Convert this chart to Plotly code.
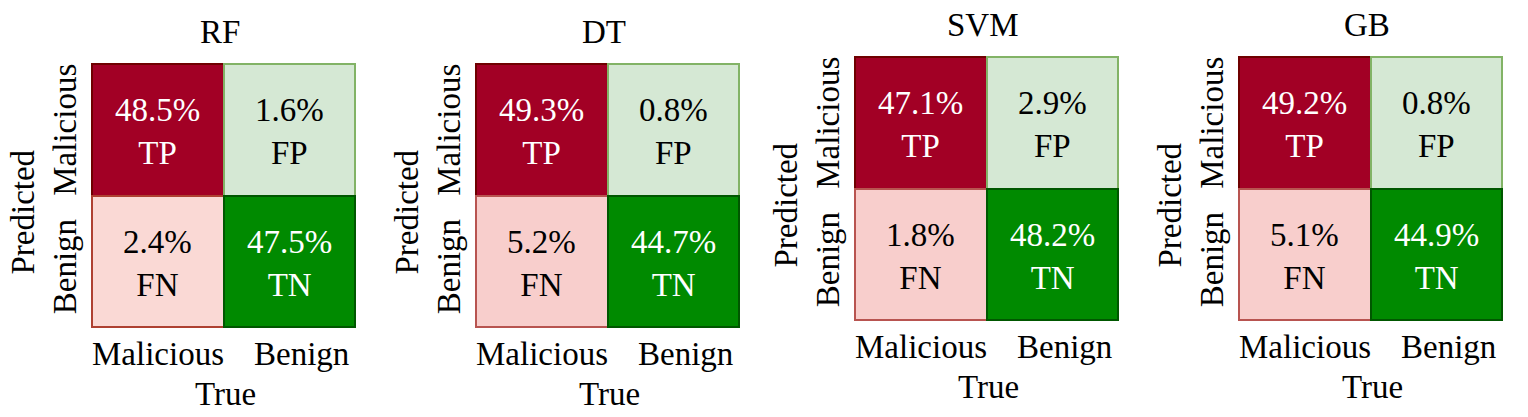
import plotly.graph_objects as go

# confusion matrix values (%), one entry per model
models = ["RF", "DT", "SVM", "GB"]
tp = [48.5, 49.3, 47.1, 49.2]
fp = [1.6, 0.8, 2.9, 0.8]
fn = [2.4, 5.2, 1.8, 5.1]
tn = [47.5, 44.7, 48.2, 44.9]
cell_names = ["TP", "FP", "FN", "TN"]
true_labels = ["Malicious", "Benign"]
pred_labels = ["Malicious", "Benign"]

# page body has an 8px margin, so the figure is drawn smaller and offset
OFF = 8
W, H = 1528 - 2 * OFF, 417 - 2 * OFF
FONT = "Liberation Serif"
FS = 33

# panel placement in window pixels (grid left / top edge, grid size)
panel_left = [92, 476, 855, 1239]
panel_top = [64, 64, 57, 57]
SIZE = 263
PAD = 2

# draw order TP, FP, FN, TN -> (row, col)
cell_pos = [(0, 0), (0, 1), (1, 0), (1, 1)]
fill_colors = ["#a20025", "#d5e8d4", "#f8cecc", "#008a00"]
line_colors = ["#6f0000", "#82b366", "#b85450", "#005700"]
text_colors = ["white", "black", "black", "white"]
# RF uses a slightly different pink for FN
fn_fill = ["#fad9d5", "#f8cecc", "#f8cecc", "#f8cecc"]
fn_line = ["#ae4132", "#b85450", "#b85450", "#b85450"]

fig = go.Figure()
annotations = []
unit = SIZE / 2.0

for k, name in enumerate(models):
    ax = "" if k == 0 else str(k + 1)
    xa, ya = "x" + ax, "y" + ax
    values = [tp[k], fp[k], fn[k], tn[k]]
    for c, (r, col) in enumerate(cell_pos):
        fcol = fn_fill[k] if c == 2 else fill_colors[c]
        lcol = fn_line[k] if c == 2 else line_colors[c]
        fig.add_trace(go.Bar(
            x=[col], y=[1], base=[r - 0.5], width=1,
            marker=dict(color=fcol, line=dict(color=lcol, width=2)),
            xaxis=xa, yaxis=ya, showlegend=False, hoverinfo="skip"
        ))
        annotations.append(dict(
            text=f"{values[c]:.1f}%<br>{cell_names[c]}", x=col, y=r,
            xref=xa, yref=ya, yshift=-2, showarrow=False,
            font=dict(family=FONT, size=FS, color=text_colors[c]),
            xanchor="center", yanchor="middle"
        ))

    L, T = panel_left[k] - OFF, panel_top[k] - OFF
    rng = [-0.5 - PAD / unit, 1.5 + PAD / unit]
    xdom = [(L - PAD) / W, (L + SIZE + PAD) / W]
    ydom = [1 - (T + SIZE + PAD) / H, 1 - (T - PAD) / H]
    axis_common = dict(showgrid=False, zeroline=False, showticklabels=False,
                       ticks="", showline=False, fixedrange=True)
    fig.update_layout(**{
        "xaxis" + ax: dict(domain=xdom, range=rng, anchor=ya, **axis_common),
        "yaxis" + ax: dict(domain=ydom, range=rng[::-1], anchor=xa, **axis_common),
    })

    tf = dict(family=FONT, size=FS, color="black")
    # title (domain edge sits PAD px outside the grid)
    annotations.append(dict(text=name, x=0.5, y=1, xref=xa + " domain", yref=ya + " domain",
                            xshift=-4, yshift=32 - PAD, showarrow=False, font=tf,
                            xanchor="center", yanchor="middle"))
    # true labels
    for j, lab in enumerate(true_labels):
        annotations.append(dict(text=lab, x=j, y=0, xref=xa, yref=ya + " domain",
                                xshift=0 if j == 0 else 12, yshift=-(27 - PAD), showarrow=False,
                                font=tf, xanchor="center", yanchor="middle"))
    annotations.append(dict(text="True", x=0.5, y=0, xref=xa, yref=ya + " domain",
                            xshift=2, yshift=-(67 - PAD), showarrow=False, font=tf,
                            xanchor="center", yanchor="middle"))
    # predicted labels
    for i, lab in enumerate(pred_labels):
        annotations.append(dict(text=lab, x=0, y=i, xref=xa + " domain", yref=ya,
                                xshift=-(27 - PAD), yshift=0 if i == 0 else -6, showarrow=False,
                                font=tf, textangle=-90, xanchor="center", yanchor="middle"))
    annotations.append(dict(text="Predicted", x=0, y=0.5, xref=xa + " domain", yref=ya,
                            xshift=-(70 - PAD), yshift=-17, showarrow=False, font=tf,
                            textangle=-90, xanchor="center", yanchor="middle"))

fig.update_layout(
    width=W, height=H,
    margin=dict(l=0, r=0, t=0, b=0),
    barmode="overlay",
    bargap=0,
    plot_bgcolor="white",
    paper_bgcolor="white",
    annotations=annotations,
    showlegend=False,
)

fig.write_html("out.html")
